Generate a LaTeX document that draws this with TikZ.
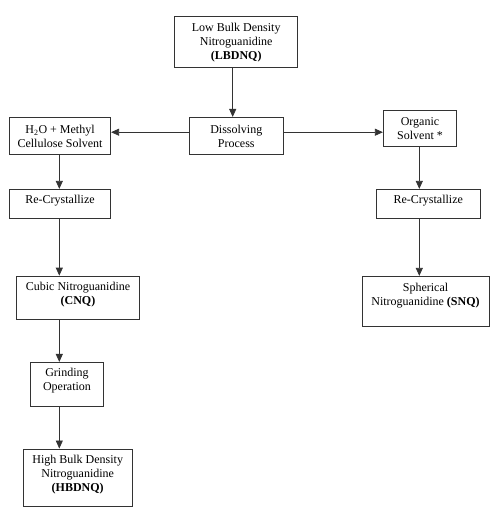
\documentclass[tikz,border=0pt]{standalone}
\usepackage{fontspec}
\setmainfont{Liberation Serif}
\usetikzlibrary{arrows.meta}
\begin{document}
\begin{tikzpicture}[x=1pt,y=-1pt,
  box/.style={draw=black!80, line width=0.8pt, rectangle, inner sep=0pt},
  txt/.style={align=center, font=\fontsize{12}{14}\selectfont, inner sep=0pt},
  arr/.style={draw=black!80, line width=0.8pt, -{Triangle[length=8pt,width=7pt]}}]
\useasboundingbox (0,0) rectangle (494,531);
% boxes
\node[box, minimum width=123pt, minimum height=50.6pt] (lb) at (236.2,42) {};
\node[box, minimum width=94pt, minimum height=36.7pt] (dp) at (236.3,135.7) {};
\node[box, minimum width=101.4pt, minimum height=36.7pt] (h2o) at (60,135.7) {};
\node[box, minimum width=73.4pt, minimum height=36.7pt] (org) at (420,128.3) {};
\node[box, minimum width=101.4pt, minimum height=29.4pt] (rcl) at (60,204) {};
\node[box, minimum width=103.3pt, minimum height=29.4pt] (rcr) at (428.3,204) {};
\node[box, minimum width=122.6pt, minimum height=43.3pt] (cnq) at (78,297.7) {};
\node[box, minimum width=72.6pt, minimum height=43.7pt] (gr) at (67,384.2) {};
\node[box, minimum width=108.7pt, minimum height=57.7pt] (hb) at (77.7,477.8) {};
\node[box, minimum width=127pt, minimum height=50pt] (snq) at (425.5,301.3) {};
% guide coordinates
\coordinate (hy) at (0,132.2);
\coordinate (lx) at (59.3,0);
\coordinate (rx) at (419.3,0);
\coordinate (tx) at (232.7,0);
% texts
\node[txt] at (236.2,42.7) {Low Bulk Density\\Nitroguanidine\\\textbf{(LBDNQ)}};
\node[txt] at (236.3,136) {Dissolving\\Process};
\node[txt] at (60,136.3) {H\textsubscript{2}O + Methyl\\Cellulose Solvent};
\node[txt] at (420,129) {Organic\\Solvent *};
\node[txt] at (60,201) {Re-Crystallize};
\node[txt] at (428.3,201) {Re-Crystallize};
\node[txt] at (78,294.7) {Cubic Nitroguanidine\\\textbf{(CNQ)}};
\node[txt] at (67,381) {Grinding\\Operation};
\node[txt] at (77.7,474.5) {High Bulk Density\\Nitroguanidine\\\textbf{(HBDNQ)}};
\node[txt] at (425.5,295.5) {Spherical\\Nitroguanidine \textbf{(SNQ)}};
% connectors
\draw[arr] (tx |- lb.south) -- (tx |- dp.north);
\draw[arr] (dp.west |- hy) -- (h2o.east |- hy);
\draw[arr] (dp.east |- hy) -- (org.west |- hy);
\draw[arr] (lx |- h2o.south) -- (lx |- rcl.north);
\draw[arr] (lx |- rcl.south) -- (lx |- cnq.north);
\draw[arr] (lx |- cnq.south) -- (lx |- gr.north);
\draw[arr] (lx |- gr.south) -- (lx |- hb.north);
\draw[arr] (rx |- org.south) -- (rx |- rcr.north);
\draw[arr] (rx |- rcr.south) -- (rx |- snq.north);
\end{tikzpicture}
\end{document}
